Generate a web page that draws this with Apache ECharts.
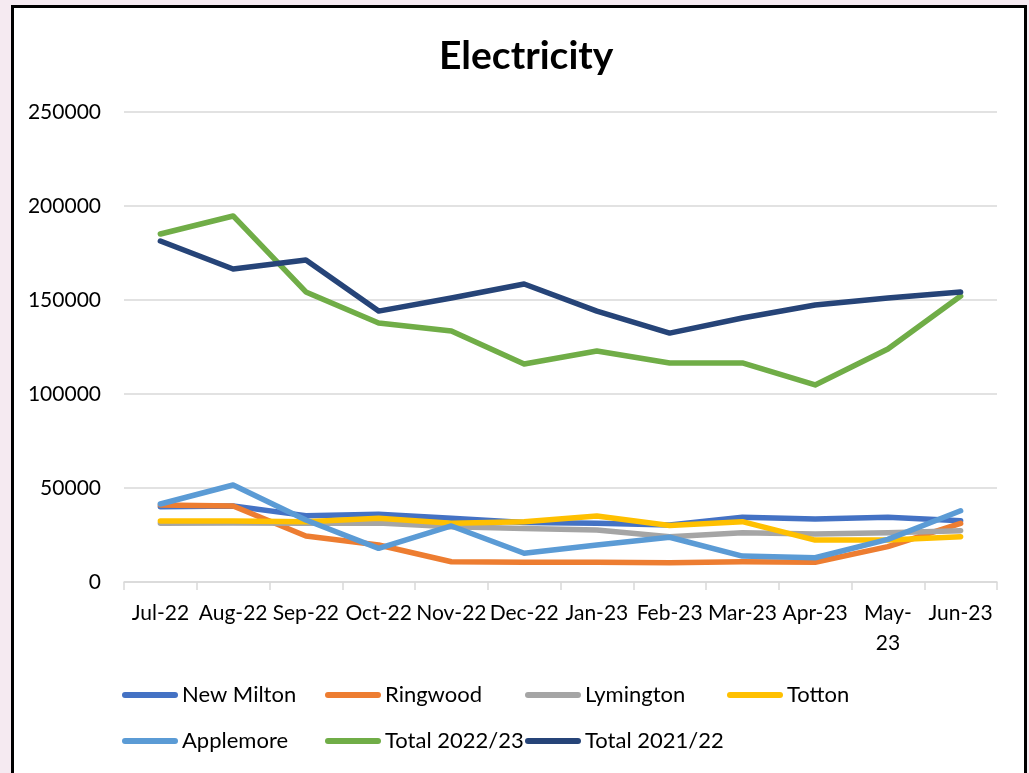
<!DOCTYPE html>
<html><head><meta charset="utf-8">
<script src="https://cdn.jsdelivr.net/npm/echarts@6/dist/echarts.min.js"></script>
<style>html,body{margin:0;padding:0;background:#f5eaf1;}#c{width:1029px;height:773px;}</style>
</head><body><div id="c"></div>
<script>
const categories = ['Jul-22','Aug-22','Sep-22','Oct-22','Nov-22','Dec-22','Jan-23','Feb-23','Mar-23','Apr-23','May-23','Jun-23'];
const newMilton = [40000,40400,35300,36000,33900,31700,31200,30300,34400,33500,34400,32600];
const ringwood  = [41000,40400,24500,19700,10800,10500,10500,10300,10800,10500,18800,31200];
const lymington = [31200,31400,31200,31400,29400,28500,27700,24100,26200,25500,26200,27300];
const totton    = [32400,32400,32100,33900,31200,32100,35100,30000,32100,22300,22300,24100];
const applemore = [41500,51600,33000,17900,29800,15300,19700,23800,13800,12900,22700,37900];
const total2223 = [185100,194700,154300,137800,133500,116000,122900,116500,116500,104800,123900,152100];
const total2122 = [181400,166500,171300,144100,151100,158500,144100,132400,140400,147300,151100,154300];
const yTicks = [0,50000,100000,150000,200000,250000];

const names  = ['New Milton','Ringwood','Lymington','Totton','Applemore','Total 2022/23','Total 2021/22'];
const colors = ['#4472C4','#ED7D31','#A5A5A5','#FFC000','#5B9BD5','#70AD47','#264478'];
const values = [newMilton,ringwood,lymington,totton,applemore,total2223,total2122];

const font = 'Lato, "Open Sans", sans-serif';
const chart = echarts.init(document.getElementById('c'), null, {renderer:'canvas'});
const legendPos = [[122,684],[325,684],[525,684],[727,684],[122,730],[325,730],[525,730]];
const capsule = 'path://M3,0 L53,0 A3,3 0 0 1 53,6 L3,6 A3,3 0 0 1 3,0 Z';
chart.setOption({
  animation:false,
  backgroundColor:'transparent',
  graphic:[{type:'rect',z:-10,shape:{x:12.5,y:6.5,width:1013,height:820},style:{fill:'#ffffff',stroke:'#000000',lineWidth:3}}],
  title:{text:'Electricity',left:434,top:32,textStyle:{fontFamily:font,fontSize:39,fontWeight:'bold',color:'#000'}},
  legend: names.map((n,i)=>({
    data:[n], left:legendPos[i][0], top:legendPos[i][1], icon:capsule,
    itemWidth:56, itemHeight:6, padding:0,
    textStyle:{fontFamily:font,fontSize:22,color:'#000',padding:[0,0,0,-1]}
  })),
  grid:{left:124,right:32,top:112,bottom:191,containLabel:false},
  xAxis:{type:'category',data:categories,boundaryGap:true,
    axisLine:{lineStyle:{color:'#d9d9d9',width:1.5}},
    axisTick:{show:true,length:8,lineStyle:{color:'#d9d9d9',width:1.5}},
    axisLabel:{fontFamily:font,fontSize:21,color:'#000',margin:16,interval:0,lineHeight:30,
      formatter:v=> v==='May-23' ? 'May-\n23' : v}},
  yAxis:{type:'value',min:yTicks[0],max:yTicks[yTicks.length-1],interval:50000,
    axisLine:{show:false},axisTick:{show:false},
    splitLine:{lineStyle:{color:'#d9d9d9',width:1.5}},
    axisLabel:{fontFamily:font,fontSize:21,color:'#000',margin:23,formatter:v=>String(v)}},
  series: names.map((n,i)=>({
    name:n,type:'line',data:values[i],showSymbol:false,symbol:'none',
    lineStyle:{color:colors[i],width:5.5,cap:'round',join:'round'},
    itemStyle:{color:colors[i]}, z:2+i
  }))
});
</script></body></html>
